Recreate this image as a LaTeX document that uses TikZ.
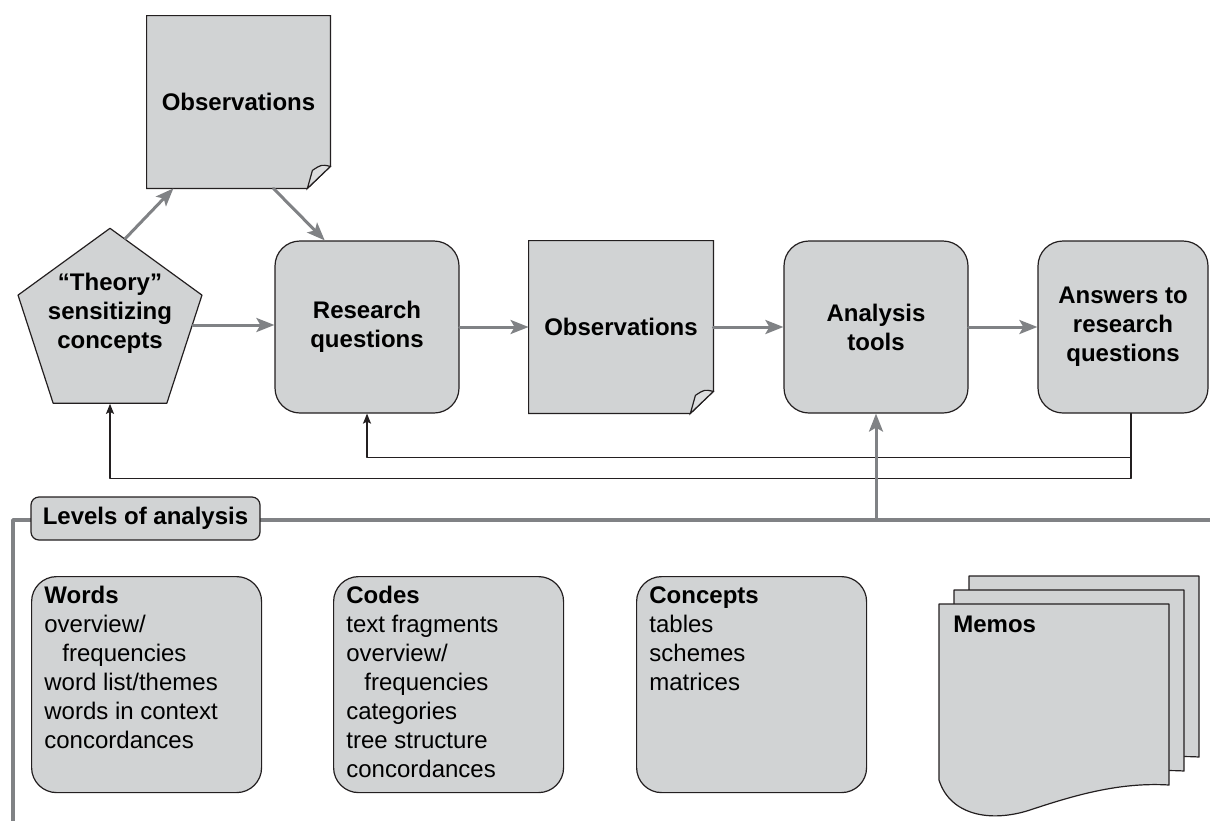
\documentclass[tikz,border=0pt]{standalone}
\usepackage{fontspec}
\setmainfont{Liberation Sans}
\usetikzlibrary{shapes.geometric,arrows.meta,backgrounds}
\definecolor{boxgray}{RGB}{209,211,212}
\definecolor{arrowgray}{RGB}{128,130,133}
\definecolor{inkline}{RGB}{35,31,32}
\begin{document}
\begin{tikzpicture}[x=0.5pt, y=-0.5pt, font=\fontsize{12}{14.5}\selectfont, line join=round, line cap=round, >=stealth]
	\tikzset{
		stage/.style={draw=inkline, fill=boxgray, line width=0.6pt, rounded corners=12.5pt, minimum width=92pt, minimum height=86pt, align=center, font=\fontsize{12}{14.5}\selectfont\bfseries},
		note/.style={minimum width=92pt, minimum height=86pt, align=center, font=\fontsize{12}{14.5}\selectfont\bfseries},
		level/.style={draw=inkline, fill=boxgray, line width=0.6pt, rounded corners=12.5pt, minimum width=115pt, minimum height=108pt, anchor=north west},
		listtext/.style={anchor=north west, align=left, inner sep=0pt},
		flow/.style={draw=arrowgray, line width=1.5pt, -{Stealth[length=9pt,width=7pt,inset=2pt]}},
		back/.style={draw=inkline, line width=0.7pt, -{Stealth[length=5pt,width=4pt,inset=1pt]}}
	}
	\useasboundingbox (0,0) rectangle (1210,820);
	\node[stage] (research) at (367,327) {Research\\questions};
	\node[note] (midobs) at (621,327) {Observations};
	\node[stage] (analysis) at (876,327) {Analysis\\tools};
	\node[stage, minimum width=85pt] (answers) at (1123,327) {Answers to\\research\\questions};
	\node[note, minimum width=91.5pt] (topobs) at (238.5,102) {Observations};
	\node[draw=inkline, fill=boxgray, line width=0.6pt, regular polygon, regular polygon sides=5, minimum size=96.7pt, inner sep=0pt,
		label={[yshift=6pt, align=center, font=\fontsize{12}{14.5}\selectfont\bfseries]center:{``Theory''\\sensitizing\\concepts}}] (theory) at (110,325) {};
	\begin{scope}[on background layer]
		\foreach \n in {topobs,midobs}{
			\draw[draw=inkline, fill=boxgray, line width=0.6pt] (\n.north west) -- (\n.north east) -- ([yshift=11pt]\n.south east) -- ([xshift=-11.5pt]\n.south east) -- (\n.south west) -- cycle;
			\draw[draw=inkline, fill=boxgray!75!white, line width=0.6pt] ([xshift=-11.5pt]\n.south east) -- ([shift={(-9pt,9pt)}]\n.south east) .. controls ([shift={(-4.5pt,12pt)}]\n.south east) .. ([yshift=11pt]\n.south east) -- cycle;
		}
	\end{scope}
	\draw[flow] (theory.east) -- (theory.east -| research.west);
	\draw[flow] (research) -- (midobs);
	\draw[flow] (midobs) -- (analysis);
	\draw[flow] (analysis) -- (answers);
	\draw[flow] (theory.80) -- (topobs.233);
	\draw[flow] (topobs.-68) -- (research.116);
	\coordinate (ansfoot) at ([xshift=4pt]answers.south);
	\draw[back] (ansfoot) -- ++(0,44) -| (research.south);
	\draw[back] (ansfoot) -- ++(0,65) -| (theory.south);
	\draw[arrowgray, line width=1.8pt, line cap=butt] (13,822) |- (1212,520);
	\node[draw=inkline, fill=boxgray, line width=0.6pt, rounded corners=4pt, minimum width=114.5pt, minimum height=21.5pt, font=\fontsize{12}{14.5}\selectfont\bfseries] (levels) at (145.5,518.5) {Levels of analysis};
	\coordinate (tap) at (876,520);
	\draw[flow] (tap) -- (analysis.south);
	\node[level] (words) at (31,576) {};
	\node[listtext] (wordslist) at ([shift={(13,10)}]words.north west) {\textbf{Words}\\overview/\\\hspace*{9pt}frequencies\\word list/themes\\words in context\\concordances};
	\node[level] (codes) at (333,576) {};
	\node[listtext] (codeslist) at ([shift={(13,10)}]codes.north west) {\textbf{Codes}\\text fragments\\overview/\\\hspace*{9pt}frequencies\\categories\\tree structure\\concordances};
	\node[level] (concepts) at (636,576) {};
	\node[listtext] (conceptslist) at ([shift={(13,10)}]concepts.north west) {\textbf{Concepts}\\tables\\schemes\\matrices};
	\foreach \dx/\dy in {30/-28, 15/-14, 0/0}{
		\draw[shift={(\dx,\dy)}, draw=inkline, fill=boxgray, line width=0.6pt] (939,604) -- (1169,604) -- (1169,785) .. controls (1120,782) and (1075,795) .. (1030,810) .. controls (990,823) and (950,815) .. (939,780) -- cycle;
	}
	\node[anchor=north west, inner sep=0pt, font=\fontsize{12}{14.5}\selectfont\bfseries] (memos) at (953,616) {Memos};
\end{tikzpicture}
\end{document}
